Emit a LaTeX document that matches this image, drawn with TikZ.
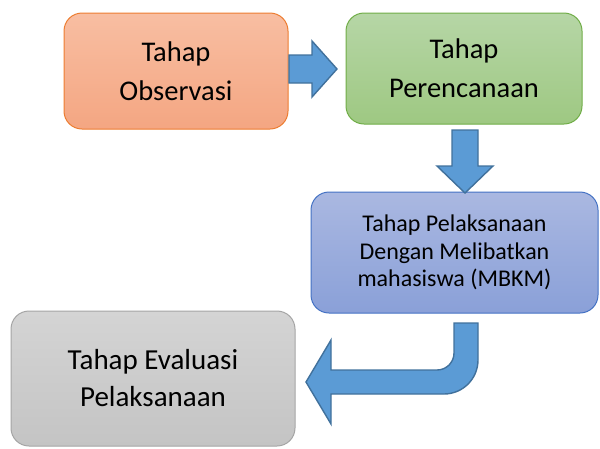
\documentclass[tikz,border=0pt]{standalone}
\usepackage{fontspec}
\setmainfont{Carlito}
\definecolor{orgline}{HTML}{ED7D31}
\definecolor{grnline}{HTML}{70AD47}
\definecolor{bluline}{HTML}{4472C4}
\definecolor{gryline}{HTML}{A5A5A5}
\definecolor{arrfill}{HTML}{5B9BD5}
\definecolor{arrline}{HTML}{41719C}

\begin{document}
\begin{tikzpicture}[x=1pt,y=-1pt,
  stage/.style={rounded corners=18pt,line width=1pt,align=center,inner sep=0pt},
  bigtext/.style={font=\fontsize{28.5}{39}\selectfont},
  blockarrow/.style={fill=arrfill,draw=arrline,line width=1.4pt,line join=miter}]
\useasboundingbox (0,0) rectangle (600,448);
% stages
\node[stage,bigtext,draw=orgline,top color={rgb,255:red,248;green,190;blue,162},bottom color={rgb,255:red,244;green,166;blue,130},minimum width=224pt,minimum height=116pt] (obs) at (176,71) {Tahap\\Observasi};
\node[stage,bigtext,draw=grnline,top color={rgb,255:red,182;green,214;blue,166},bottom color={rgb,255:red,158;green,200;blue,130},minimum width=236pt,minimum height=111pt] (ren) at (464,68.5) {Tahap\\Perencanaan};
\node[stage,font=\fontsize{24}{27.5}\selectfont,draw=bluline,top color={rgb,255:red,170;green,184;blue,225},bottom color={rgb,255:red,138;green,160;blue,216},minimum width=287pt,minimum height=121pt] (lak) at (454.5,252.5) {Tahap Pelaksanaan\\Dengan Melibatkan\\mahasiswa (MBKM)};
\node[stage,font=\fontsize{29}{37}\selectfont,draw=gryline,top color={rgb,255:red,212;green,212;blue,212},bottom color={rgb,255:red,196;green,196;blue,196},minimum width=284pt,minimum height=135pt] (eva) at (153,378.5) {Tahap Evaluasi\\Pelaksanaan};
% block arrows
\draw[blockarrow] (289,55)--(312,55)--(312,41)--(337,69)--(312,97)--(312,83)--(289,83)--cycle;
\draw[blockarrow] (452,130)--(478,130)--(478,166)--(493,166)--(465,193)--(437,166)--(452,166)--cycle;
\draw[blockarrow] (478,323)--(478,360) .. controls (478,378.8) and (462.8,394) .. (444,394)--(331,394)--(331,424)--(306,382)--(331,340)--(331,370)--(437,370) .. controls (446.4,370) and (454,362.4) .. (454,353)--(454,323)--cycle;
\end{tikzpicture}
\end{document}
